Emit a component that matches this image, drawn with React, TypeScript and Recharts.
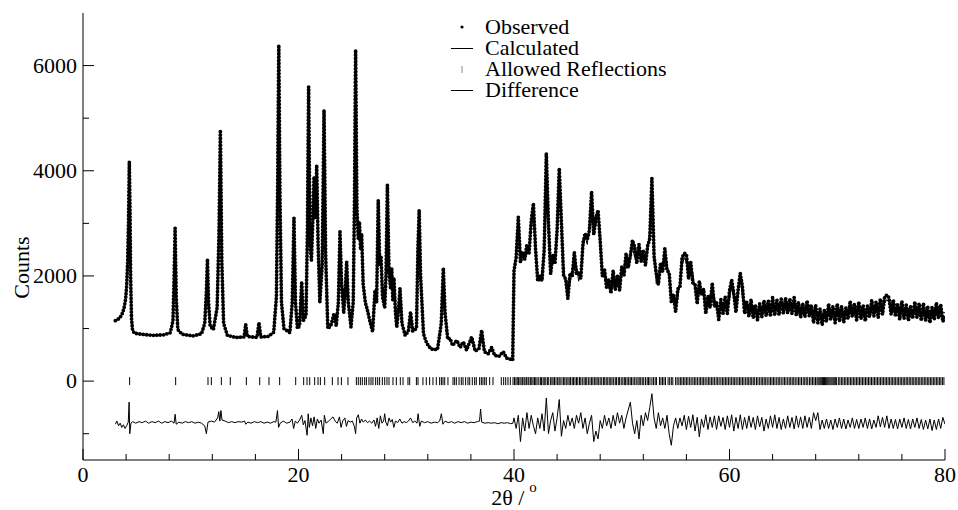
import React from 'react';
import { ComposedChart, Line, Scatter, XAxis, YAxis, Legend, Label } from 'recharts';

// ---------- data (2θ in degrees, intensities in counts) ----------
// low-angle region: non-uniform trace points
const lowX = [
  3.0, 3.2, 3.4, 3.6, 3.8, 3.95, 4.05, 4.15, 4.22, 4.3,
  4.36, 4.42, 4.5, 4.6, 4.8, 5.5, 6.5, 7.5, 8.1, 8.35,
  8.45, 8.55, 8.65, 8.8, 9.2, 10.2, 11.0, 11.3, 11.45, 11.55,
  11.65, 11.8, 12.1, 12.45, 12.62, 12.75, 12.88, 13.05, 13.4, 14.2,
  14.95, 15.1, 15.25, 16.15, 16.33, 16.5, 17.2, 17.7, 17.95, 18.07,
  18.17, 18.28, 18.42, 18.65, 19.2, 19.42, 19.58, 19.72, 19.9, 20.1,
  20.3, 20.45, 20.7, 20.83, 20.94, 21.07, 21.2, 21.32, 21.44, 21.56,
  21.69, 21.82, 21.98, 22.2, 22.37, 22.52, 22.72, 23.0, 23.3, 23.5,
  23.7, 23.85, 24.0, 24.2, 24.33, 24.47, 24.62, 24.87, 25.08, 25.2,
  25.3, 25.42, 25.55, 25.66, 25.76, 25.86, 26.0, 26.2, 26.4, 26.6,
  26.88, 27.1, 27.25, 27.4, 27.54, 27.66, 27.8, 28.0, 28.12, 28.25,
  28.4, 28.55, 28.65, 28.75, 28.86, 29.0, 29.12, 29.3, 29.42, 29.6,
  29.9, 30.2, 30.4, 30.6, 30.95, 31.08, 31.2, 31.33, 31.6, 31.9,
  32.3, 32.9, 33.25, 33.44, 33.6, 33.85, 34.06, 34.3, 34.7, 35.0,
  35.3, 35.6, 36.07, 36.4, 36.75, 37.0, 37.25, 37.6, 37.93, 38.2,
  38.6, 39.0, 39.3, 39.6, 39.88,
];
const lowObs = [
  1150, 1170, 1200, 1260, 1380, 1550, 1800, 2300, 3000, 4170,
  3300, 2000, 1200, 960, 910, 890, 870, 880, 920, 1150,
  1900, 2910, 1600, 980, 890, 860, 900, 1100, 1700, 2320,
  1500, 1050, 980, 1400, 2800, 4775, 2300, 1100, 870, 830,
  840, 1080, 850, 830, 1110, 840, 850, 930, 1600, 3800,
  6390, 3500, 1500, 1000, 920, 1500, 3100, 1500, 1000, 1050,
  1890, 1150, 1250, 2900, 5600, 2600, 2300, 3000, 3890, 3100,
  4110, 2600, 1500, 2200, 5150, 2400, 1000, 1050, 1290, 1050,
  1500, 2840, 1850, 1300, 1700, 2270, 1500, 1030, 1500, 3500,
  6300, 3300, 2700, 3030, 2500, 2800, 1850, 1500, 1350, 1160,
  940, 1730, 1500, 3440, 2200, 2360, 1600, 1400, 2000, 3730,
  2100, 1750, 2150, 1550, 1960, 1300, 1030, 1400, 1765, 1100,
  870, 950, 1315, 950, 1000, 2500, 3250, 2000, 900, 720,
  610, 600, 1100, 2150, 1300, 800, 815, 680, 775, 640,
  745, 590, 840, 570, 620, 965, 560, 520, 640, 490,
  470, 560, 440, 420, 400,
];
const lowCalc = [
  1160, 1175, 1210, 1270, 1380, 1560, 1850, 2350, 3000, 3700,
  3200, 1950, 1150, 950, 910, 890, 880, 880, 920, 1150,
  1850, 2800, 1600, 980, 890, 860, 900, 1100, 1700, 2250,
  1500, 1050, 980, 1400, 2800, 4650, 2300, 1100, 870, 830,
  840, 1050, 850, 830, 1080, 840, 850, 930, 1600, 3800,
  6250, 3500, 1500, 1000, 920, 1500, 3050, 1500, 1000, 1050,
  1850, 1150, 1250, 2900, 5500, 2600, 2300, 3000, 3800, 3100,
  4050, 2600, 1500, 2200, 5100, 2400, 1000, 1050, 1250, 1050,
  1500, 2800, 1850, 1300, 1700, 2250, 1500, 1030, 1500, 3500,
  6140, 3300, 2700, 3000, 2500, 2800, 1850, 1500, 1350, 1160,
  940, 1700, 1500, 3400, 2200, 2350, 1600, 1400, 2000, 3650,
  2100, 1750, 2150, 1550, 1950, 1300, 1030, 1400, 1750, 1100,
  870, 950, 1300, 950, 1000, 2500, 3200, 2000, 900, 720,
  610, 600, 1100, 2100, 1300, 800, 815, 680, 775, 640,
  745, 590, 840, 570, 620, 940, 560, 520, 640, 490,
  470, 560, 440, 420, 400,
];

// high-angle region: recorded from 40.0° to 80.0° in 0.2° steps
const highStart = 40.0;
const highStep = 0.2;
const highObs = [
  2100, 2350, 3120, 2260, 2440, 2320, 2600, 2440, 3050, 3380,
  2520, 1900, 2020, 1910, 2490, 4330, 3000, 2040, 2400, 2230,
  2870, 4045, 3020, 2010, 1940, 1570, 2050, 1990, 2450, 2030,
  2070, 1950, 2620, 2810, 2690, 2870, 3600, 2790, 3100, 3250,
  2670, 2000, 2120, 1760, 1940, 1670, 2100, 1740, 2000, 1730,
  2170, 2000, 2420, 2160, 2390, 2680, 2550, 2240, 2600, 2280,
  2470, 2200, 2570, 2710, 3855, 2370, 2050, 1840, 2250, 2080,
  2520, 2100, 2070, 1510, 1640, 1320, 1750, 1790, 2350, 2430,
  2420, 1950, 2270, 1860, 1840, 1470, 1900, 1640, 1750, 1280,
  1620, 1400, 1870, 1410, 1490, 1170, 1550, 1290, 1600, 1280,
  1720, 1920, 1670, 1310, 1740, 2050, 1800, 1290, 1500, 1230,
  1550, 1200, 1450, 1160, 1470, 1220, 1530, 1240, 1530, 1230,
  1590, 1250, 1540, 1260, 1560, 1290, 1580, 1290, 1570, 1280,
  1590, 1250, 1500, 1210, 1470, 1220, 1530, 1240, 1450, 1110,
  1440, 1110, 1370, 1070, 1340, 1130, 1470, 1170, 1420, 1110,
  1470, 1140, 1420, 1120, 1390, 1180, 1520, 1220, 1470, 1160,
  1510, 1180, 1440, 1140, 1430, 1220, 1540, 1240, 1510, 1210,
  1570, 1270, 1600, 1640, 1590, 1270, 1550, 1230, 1480, 1170,
  1520, 1190, 1450, 1150, 1420, 1190, 1510, 1210, 1480, 1150,
  1480, 1150, 1410, 1110, 1400, 1170, 1490, 1190, 1460, 1130,
  1250,
];
const highCalc = [
  1950, 2500, 3100, 2450, 2350, 2450, 2400, 2550, 2900, 3200,
  2350, 2050, 1900, 2100, 2400, 4100, 2800, 2150, 2250, 2400,
  2700, 3800, 2900, 2200, 1850, 1700, 1850, 2100, 2300, 2200,
  1900, 2100, 2500, 2750, 2600, 3000, 3450, 2900, 2950, 3200,
  2500, 2150, 2000, 1950, 1850, 1800, 1900, 1850, 1850, 1900,
  2000, 2150, 2300, 2350, 2300, 2550, 2350, 2350, 2450, 2450,
  2300, 2350, 2450, 2900, 3700, 2500, 1850, 1950, 2100, 2250,
  2350, 2250, 1950, 1700, 1550, 1450, 1550, 1900, 2200, 2350,
  2250, 2100, 2150, 2050, 1750, 1600, 1700, 1750, 1600, 1450,
  1450, 1550, 1750, 1600, 1400, 1300, 1350, 1400, 1450, 1450,
  1550, 1800, 1550, 1500, 1650, 1950, 1600, 1400, 1350, 1400,
  1380, 1350, 1330, 1350, 1380, 1350, 1330, 1350, 1380, 1400,
  1420, 1400, 1420, 1450, 1470, 1420, 1380, 1400, 1420, 1450,
  1420, 1400, 1380, 1400, 1380, 1350, 1330, 1350, 1300, 1280,
  1270, 1260, 1250, 1260, 1250, 1260, 1270, 1280, 1270, 1280,
  1300, 1290, 1300, 1310, 1300, 1310, 1320, 1330, 1320, 1330,
  1340, 1330, 1320, 1330, 1340, 1350, 1340, 1350, 1360, 1380,
  1400, 1420, 1480, 1550, 1500, 1400, 1350, 1340, 1330, 1340,
  1350, 1340, 1330, 1340, 1330, 1320, 1310, 1320, 1330, 1320,
  1310, 1300, 1290, 1300, 1310, 1300, 1290, 1300, 1310, 1300,
  1300,
];
const highDiff = [
  -700, -900, -650, -1150, -700, -950, -600, -900, -650, -850,
  -1000, -700, -900, -620, -950, -320, -1000, -750, -600, -950,
  -700, -350, -1050, -750, -900, -650, -850, -700, -900, -650,
  -800, -600, -900, -700, -1000, -800, -650, -1150, -950, -1100,
  -750, -900, -650, -850, -700, -900, -650, -850, -600, -800,
  -650, -900, -700, -550, -400, -800, -1000, -750, -1100, -650,
  -850, -600, -750, -500, -240, -700, -900, -600, -850, -700,
  -900, -650, -1000, -1220, -850, -700, -900, -700, -850, -650,
  -920, -670, -880, -640, -950, -690, -1060, -720, -880, -640,
  -920, -680, -880, -660, -920, -660, -860, -690, -920, -660,
  -880, -640, -950, -690, -900, -640, -920, -690, -900, -660,
  -880, -690, -920, -660, -870, -690, -950, -720, -900, -660,
  -880, -640, -900, -690, -920, -720, -900, -660, -880, -690,
  -910, -660, -880, -680, -900, -660, -880, -690, -900, -600,
  -750, -600, -920, -740, -900, -720, -900, -740, -920, -720,
  -880, -700, -900, -720, -910, -740, -880, -700, -900, -730,
  -900, -720, -880, -700, -900, -720, -910, -740, -880, -660,
  -870, -690, -880, -660, -900, -720, -900, -730, -910, -720,
  -880, -700, -900, -730, -910, -720, -880, -700, -900, -730,
  -920, -740, -910, -720, -940, -740, -920, -720, -900, -690,
  -820,
];

// difference curve in the low-angle region (offset below the pattern)
const diffLowX = [
  3.0, 3.15, 3.3, 3.45, 3.6, 3.75, 3.9, 4.05, 4.2, 4.28,
  4.34, 4.45, 4.6, 4.9, 5.2, 5.5, 5.8, 6.1, 6.4, 6.7,
  7.0, 7.3, 7.6, 7.9, 8.2, 8.45, 8.55, 8.65, 8.9, 9.2,
  9.5, 9.8, 10.1, 10.4, 10.7, 11.0, 11.3, 11.45, 11.6, 11.9,
  12.2, 12.5, 12.6, 12.7, 12.8, 12.9, 13.2, 13.5, 13.8, 14.1,
  14.4, 14.7, 15.0, 15.1, 15.3, 15.6, 15.9, 16.2, 16.5, 16.8,
  17.1, 17.4, 17.7, 17.9, 18.05, 18.15, 18.3, 18.6, 18.9, 19.2,
  19.4, 19.55, 19.7, 19.9, 20.1, 20.3, 20.45, 20.6, 20.8, 20.9,
  21.0, 21.15, 21.3, 21.45, 21.6, 21.75, 21.9, 22.1, 22.3, 22.4,
  22.55, 22.8, 23.0, 23.2, 23.4, 23.6, 23.8, 23.95, 24.1, 24.3,
  24.45, 24.6, 24.8, 25.0, 25.2, 25.3, 25.4, 25.55, 25.7, 25.85,
  26.0, 26.2, 26.4, 26.6, 26.8, 27.0, 27.15, 27.3, 27.45, 27.6,
  27.75, 27.9, 28.0, 28.1, 28.25, 28.4, 28.55, 28.7, 28.85, 29.0,
  29.2, 29.4, 29.6, 29.8, 30.0, 30.2, 30.4, 30.6, 30.8, 31.0,
  31.1, 31.25, 31.4, 31.7, 32.0, 32.3, 32.6, 32.9, 33.1, 33.26,
  33.4, 33.6, 33.9, 34.2, 34.5, 34.8, 35.1, 35.4, 35.7, 36.0,
  36.3, 36.6, 36.8, 36.9, 37.0, 37.3, 37.6, 37.9, 38.2, 38.5,
  38.8, 39.1, 39.4, 39.7, 39.9,
];
const diffLowY = [
  -820, -760, -850, -800, -880, -830, -900, -850, -780, -400,
  -1000, -800, -770, -800, -770, -790, -760, -800, -770, -790,
  -760, -800, -770, -790, -760, -800, -630, -820, -780, -800,
  -770, -790, -770, -800, -780, -800, -850, -1000, -780, -760,
  -780, -700, -580, -760, -560, -740, -760, -790, -770, -790,
  -770, -780, -760, -820, -780, -800, -770, -790, -770, -800,
  -780, -800, -770, -780, -560, -880, -800, -760, -800, -780,
  -720, -900, -760, -800, -740, -650, -830, -750, -1030, -620,
  -880, -700, -850, -680, -900, -720, -800, -740, -1000, -650,
  -800, -760, -720, -680, -760, -800, -680, -880, -760, -700,
  -860, -750, -780, -760, -870, -1000, -700, -640, -800, -720,
  -780, -740, -790, -760, -800, -740, -860, -700, -900, -660,
  -800, -760, -620, -780, -850, -700, -780, -730, -880, -760,
  -790, -720, -800, -770, -790, -760, -700, -790, -760, -800,
  -620, -860, -760, -790, -770, -800, -780, -790, -760, -620,
  -820, -760, -790, -770, -800, -770, -790, -770, -800, -780,
  -790, -770, -760, -530, -780, -800, -790, -800, -790, -810,
  -790, -800, -790, -810, -800,
];

// allowed reflection positions (2θ)
const reflections = [
  4.33, 8.6, 11.6, 11.91, 12.84, 13.67, 15.16, 16.4, 17.26, 18.25,
  19.74, 20.48, 20.79, 21.04, 21.5, 21.81, 22.03, 22.43, 23.14, 23.67,
  23.98, 24.59, 25.37, 25.55, 25.74, 25.92, 26.14, 26.3, 26.54, 26.73,
  26.91, 27.16, 27.35, 27.53, 27.78, 28.0, 28.21, 28.4, 28.77, 29.08,
  29.45, 29.7, 30.16, 30.32, 30.94, 31.09, 31.55, 31.86, 32.17, 32.48,
  32.79, 33.1, 33.26, 33.41, 33.57, 33.87, 34.34, 34.49, 34.65, 34.9,
  35.11, 35.27, 35.51, 35.73, 35.89, 36.13, 36.35, 36.5, 36.81, 36.97,
  37.12, 37.28, 37.43, 37.74, 38.05, 38.82, 39.04, 39.23, 39.44, 39.66,
  39.91, 40.05, 40.18, 40.3, 40.41, 40.55, 40.66, 40.8, 40.93, 41.02,
  41.15, 41.3, 41.38, 41.52, 41.65, 41.77, 41.9, 42.02, 42.14, 42.3,
  42.45, 42.56, 42.7, 42.81, 42.95, 43.1, 43.22, 43.4, 43.52, 43.63,
  43.76, 43.9, 44.05, 44.18, 44.28, 44.45, 44.6, 44.72, 44.85, 45.0,
  45.12, 45.25, 45.4, 45.52, 45.66, 45.8, 45.92, 46.08, 46.2, 46.34,
  46.5, 46.62, 46.75, 46.9, 47.05, 47.2, 47.32, 47.46, 47.6, 47.72,
  47.86, 48.0, 48.14, 48.3, 48.42, 48.56, 48.7, 48.84, 48.98, 49.1,
  49.25, 49.4, 49.52, 49.68, 49.8, 49.95, 50.1, 50.24, 50.36, 50.5,
  50.64, 50.78, 50.9, 51.05, 51.2, 51.34, 51.5, 51.62, 51.76, 51.9,
  52.04, 52.2, 52.36, 52.48, 52.62, 52.8, 52.94, 53.1, 53.22, 53.5,
  53.64, 53.78, 53.92, 54.06, 54.3, 54.45, 54.6, 54.74, 55.0, 55.14,
  55.3, 55.44, 55.58, 55.72, 55.86, 56.0, 56.14, 56.3, 56.44, 56.6,
  56.74, 56.88, 57.02, 57.18, 57.32, 57.46, 57.6, 57.74, 57.9, 58.04,
  58.18, 58.32, 58.46, 58.6, 58.76, 58.9, 59.04, 59.2, 59.34, 59.48,
  59.62, 59.76, 59.9, 60.05, 60.2, 60.34, 60.48, 60.62, 60.78, 60.92,
  61.06, 61.2, 61.34, 61.5, 61.64, 61.78, 61.92, 62.06, 62.2, 62.34,
  62.5, 62.64, 62.8, 62.94, 63.08, 63.22, 63.36, 63.5, 63.66, 63.8,
  63.94, 64.08, 64.22, 64.38, 64.52, 64.66, 64.8, 64.96, 65.1, 65.24,
  65.4, 65.54, 65.68, 65.82, 65.96, 66.1, 66.26, 66.4, 66.54, 66.68,
  66.84, 66.98, 67.12, 67.26, 67.42, 67.56, 67.7, 67.84, 67.98, 68.12,
  68.22, 68.32, 68.42, 68.52, 68.62, 68.72, 68.82, 68.92, 69.02, 69.12,
  69.22, 69.32, 69.42, 69.52, 69.62, 69.72, 69.82, 69.92, 70.1, 70.24,
  70.38, 70.52, 70.66, 70.8, 70.94, 71.08, 71.22, 71.36, 71.5, 71.64,
  71.78, 71.92, 72.06, 72.2, 72.34, 72.48, 72.62, 72.76, 72.9, 73.04,
  73.18, 73.32, 73.46, 73.6, 73.74, 73.88, 74.02, 74.16, 74.3, 74.44,
  74.58, 74.72, 74.86, 75.0, 75.14, 75.28, 75.42, 75.56, 75.7, 75.84,
  75.98, 76.12, 76.26, 76.4, 76.54, 76.68, 76.82, 76.96, 77.1, 77.24,
  77.38, 77.52, 77.66, 77.8, 77.94, 78.08, 78.22, 78.36, 78.5, 78.64,
  78.78, 78.92, 79.06, 79.2, 79.34, 79.48, 79.62, 79.76, 79.9,
];

const xTicks = [0, 4, 8, 12, 16, 20, 24, 28, 32, 36, 40, 44, 48, 52, 56, 60, 64, 68, 72, 76, 80];
const xLabels = [0, 20, 40, 60, 80];
const yTicks = [-1000, 0, 1000, 2000, 3000, 4000, 5000, 6000];
const yLabels = [0, 2000, 4000, 6000];
const legendItems = ['Observed', 'Calculated', 'Allowed Reflections', 'Difference'];

// ---------- assembled series ----------
const highX = highObs.map((_, i) => Math.round((highStart + i * highStep) * 100) / 100);
const obsData = [
  ...lowX.map((x, i) => ({ x, y: lowObs[i] })),
  ...highX.map((x, i) => ({ x, y: highObs[i] })),
];
const calcData = [
  ...lowX.map((x, i) => ({ x, y: lowCalc[i] })),
  ...highX.map((x, i) => ({ x, y: highCalc[i] })),
];
const diffData = [
  ...diffLowX.map((x, i) => ({ x, y: diffLowY[i] })),
  ...highX.map((x, i) => ({ x, y: highDiff[i] })),
];
const reflData = reflections.map((x) => ({ x, y: 0 }));

const FONT = '"Liberation Serif", "Times New Roman", Times, serif';
const X_MARGIN = 14;
const Y_MARGIN = 6;

function XTick(props: any) {
  const { x, y, payload } = props;
  const v = payload.value;
  const major = xLabels.includes(v);
  const axisY = y - X_MARGIN;
  return (
    <g>
      <line x1={x} x2={x} y1={axisY} y2={axisY - (major ? 11 : 6)} stroke="#000" strokeWidth={1} />
      {major && (
        <text x={x} y={y + 8} textAnchor="middle" fontFamily={FONT} fontSize={22} fill="#000">
          {v}
        </text>
      )}
    </g>
  );
}

function YTick(props: any) {
  const { x, y, payload } = props;
  const v = payload.value;
  const major = yLabels.includes(v);
  const axisX = x + Y_MARGIN;
  return (
    <g>
      <line x1={axisX} x2={axisX + (major ? 11 : 6)} y1={y} y2={y} stroke="#000" strokeWidth={1} />
      {major && (
        <text x={x} y={y + 7} textAnchor="end" fontFamily={FONT} fontSize={22} fill="#000">
          {v}
        </text>
      )}
    </g>
  );
}

function XTitle(props: any) {
  const vb = props.viewBox || { x: 83, y: 460, width: 862, height: 50 };
  return (
    <text x={vb.x + vb.width / 2} y={vb.y + 45} textAnchor="middle" fontFamily={FONT} fontSize={22} fill="#000">
      2θ /<tspan dx={5} dy={-13} fontSize={15}>o</tspan>
    </text>
  );
}

function YTitle(props: any) {
  const vb = props.viewBox || { x: 0, y: 13, width: 83, height: 447 };
  const cx = vb.x + 21;
  const cy = vb.y + vb.height / 2 + 31;
  return (
    <text
      x={cx}
      y={cy}
      transform={`rotate(-90 ${cx} ${cy})`}
      textAnchor="middle"
      dominantBaseline="central"
      fontFamily={FONT}
      fontSize={22}
      fill="#000"
    >
      Counts
    </text>
  );
}

function LegendIcon({ kind }: { kind: number }) {
  return (
    <svg width={35} height={21} style={{ display: 'block' }}>
      {kind === 0 && <circle cx={12} cy={11} r={1.6} fill="#000" />}
      {(kind === 1 || kind === 3) && <line x1={1} x2={23} y1={11.5} y2={11.5} stroke="#000" strokeWidth={1} />}
      {kind === 2 && <line x1={12} x2={12} y1={8} y2={15} stroke="#888" strokeWidth={1} />}
    </svg>
  );
}

function LegendBox() {
  return (
    <div style={{ fontFamily: FONT, fontSize: 22, color: '#000', lineHeight: '21px' }}>
      {legendItems.map((name, i) => (
        <div key={name} style={{ display: 'flex', alignItems: 'center', height: 21, whiteSpace: 'nowrap' }}>
          <LegendIcon kind={i} />
          <span>{name}</span>
        </div>
      ))}
    </div>
  );
}

const tickShape = (p: any) => (
  <line x1={p.cx} x2={p.cx} y1={p.cy - 4} y2={p.cy + 4} stroke="#000" strokeWidth={1} />
);

export default function App() {
  return (
    <div>
      <style>{'body{margin:0;}'}</style>
      <ComposedChart width={958} height={510} margin={{ top: 13, right: 13, left: 0, bottom: 0 }}>
        <XAxis
          xAxisId={0}
          dataKey="x"
          type="number"
          domain={[0, 80]}
          ticks={xTicks}
          interval={0}
          allowDataOverflow
          stroke="#000"
          tickLine={false}
          tickSize={0}
          tickMargin={X_MARGIN}
          tick={<XTick />}
          height={50}
        >
          <Label content={<XTitle />} />
        </XAxis>
        <XAxis
          xAxisId="top"
          orientation="top"
          type="number"
          domain={[0, 80]}
          height={0}
          tick={false}
          tickLine={false}
          stroke="#000"
        />
        <YAxis
          yAxisId={0}
          type="number"
          domain={[-1500, 7000]}
          ticks={yTicks}
          interval={0}
          allowDataOverflow
          stroke="#000"
          tickLine={false}
          tickSize={0}
          tickMargin={Y_MARGIN}
          tick={<YTick />}
          width={83}
        >
          <Label content={<YTitle />} />
        </YAxis>
        <YAxis
          yAxisId="right"
          orientation="right"
          type="number"
          domain={[-1500, 7000]}
          width={0}
          tick={false}
          tickLine={false}
          stroke="#000"
        />
        <Legend
          layout="vertical"
          align="center"
          verticalAlign="middle"
          content={<LegendBox />}
          wrapperStyle={{ left: 450, top: 16, width: 240, height: 84 }}
        />
        <Line
          data={diffData}
          dataKey="y"
          name="Difference"
          stroke="#000"
          strokeWidth={1}
          dot={false}
          activeDot={false}
          isAnimationActive={false}
        />
        <Scatter
          data={reflData}
          dataKey="y"
          name="Allowed Reflections"
          shape={tickShape}
          isAnimationActive={false}
        />
        <Line
          data={calcData}
          dataKey="y"
          name="Calculated"
          stroke="#000"
          strokeWidth={1}
          dot={false}
          activeDot={false}
          isAnimationActive={false}
        />
        <Line
          data={obsData}
          dataKey="y"
          name="Observed"
          stroke="#000"
          strokeWidth={3.8}
          strokeDasharray="0 3.4"
          strokeLinecap="round"
          dot={false}
          activeDot={false}
          isAnimationActive={false}
        />
      </ComposedChart>
    </div>
  );
}
